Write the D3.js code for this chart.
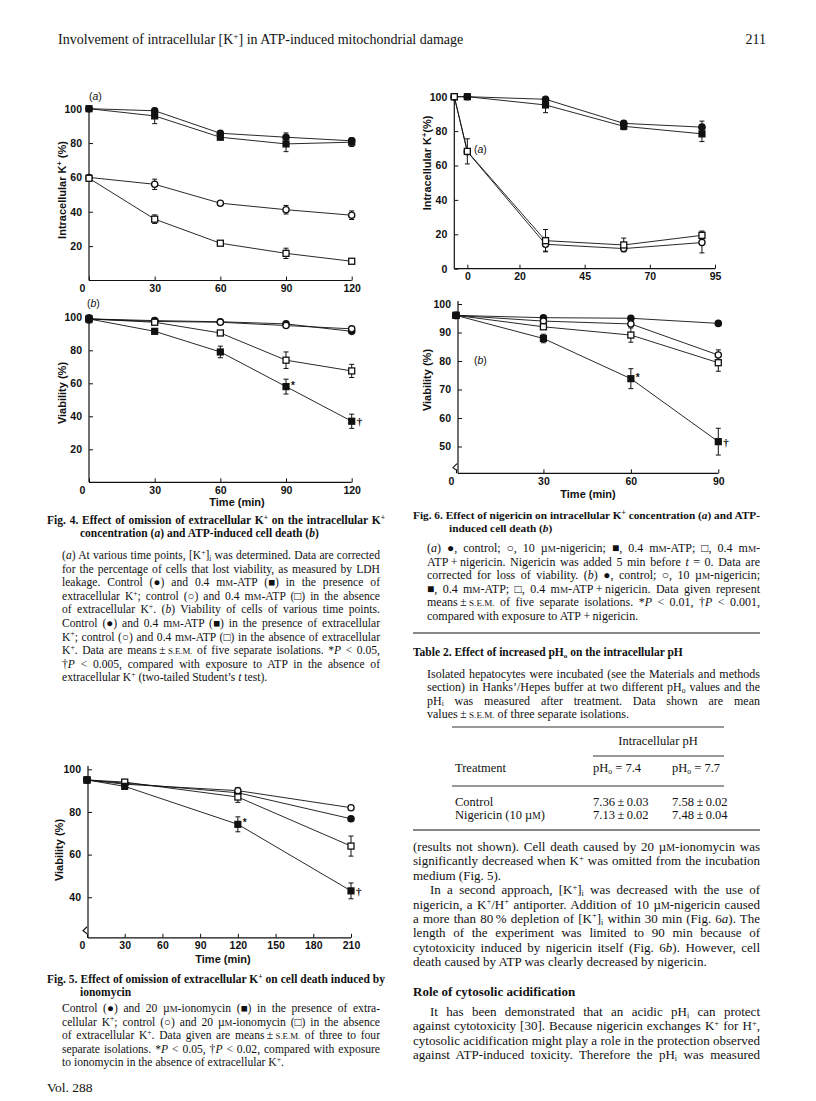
<!DOCTYPE html>
<html><head><meta charset="utf-8">
<script src="https://cdn.jsdelivr.net/npm/d3@7"></script>
<style>html,body{margin:0;padding:0;background:#fff;}svg{display:block;}</style>
</head><body>
<svg id="page" width="816" height="1101"></svg>
<script>
// ================= DATA =================
// Fig. 4(a) intracellular K+ (%)
const fig4Time = [0, 30, 60, 90, 120];
const fig4aCtrlK = [100, 98.8, 85.7, 83.4, 81.3];
const fig4aCtrlKErr = [0, 1, 1.5, 2.5, 1];
const fig4aAtpK = [100, 95.8, 83.4, 79.5, 80.5];
const fig4aAtpKErr = [0, 4.5, 1.5, 4.5, 2.5];
const fig4aCtrlNoK = [60, 56, 45, 41.2, 38];
const fig4aCtrlNoKErr = [0, 3, 1, 2.5, 2.5];
const fig4aAtpNoK = [59.5, 35.7, 21.7, 15.8, 11.2];
const fig4aAtpNoKErr = [0, 2.5, 1, 3, 0.5];
// Fig. 4(b) viability (%)
const fig4bCtrlK = [99, 98, 97.3, 96, 91.5];
const fig4bCtrlKErr = [1, 1.5, 1, 1, 1];
const fig4bCtrlNoK = [99, 97.5, 97, 95, 93];
const fig4bCtrlNoKErr = [1, 1, 0.5, 1, 1];
const fig4bAtpK = [99, 91.5, 79, 58, 37];
const fig4bAtpKErr = [2.5, 1.5, 3.5, 4.5, 4.3];
const fig4bAtpKSig = ["", "", "", "*", "\u2020"];
const fig4bAtpNoK = [99, 97, 90.5, 74, 67.5];
const fig4bAtpNoKErr = [1, 1, 1, 5, 4];
const fig4XTicks = [0, 30, 60, 90, 120];
const fig4YTicks = [20, 40, 60, 80, 100];
// Fig. 5 viability (%), ionomycin
const fig5Time = [0, 30, 120, 210];
const fig5CtrlK = [95, 93.5, 89, 76.8];
const fig5CtrlKErr = [0.5, 1, 2, 1];
const fig5CtrlNoK = [95, 93, 90, 82];
const fig5CtrlNoKErr = [0.5, 1, 1.5, 1];
const fig5IonoK = [95, 92, 74.2, 43];
const fig5IonoKErr = [0.5, 1, 3.5, 3.7];
const fig5IonoKSig = ["", "", "*", "\u2020"];
const fig5IonoNoK = [95, 94, 87, 64];
const fig5IonoNoKErr = [0.5, 1, 2.5, 4.7];
const fig5XTicks = [0, 30, 60, 90, 120, 150, 180, 210];
const fig5YTicks = [40, 60, 80, 100];
// Fig. 6(a) intracellular K+ (%), nigericin
const fig6aTime = [-5, 0, 30, 60, 90];
const fig6aCtrl = [100, 100, 98.5, 84.5, 82.3];
const fig6aCtrlErr = [0, 0, 1, 1.5, 3.5];
const fig6aAtp = [100, 100, 95.2, 82.8, 78.4];
const fig6aAtpErr = [0, 0, 4.5, 2, 4.5];
const fig6aNig = [100, 68, 14.2, 11.7, 15.2];
const fig6aNigErr = [0, 0, 4, 1.5, 6];
const fig6aAtpNig = [100, 68.2, 16.3, 13.8, 19.4];
const fig6aAtpNigErr = [0, 7.3, 6.5, 4, 2.5];
const fig6aXTicks = [0, 20, 45, 70, 95];
const fig6aYTicks = [0, 20, 40, 60, 80, 100];
// Fig. 6(b) viability (%)
const fig6bTime = [0, 30, 60, 90];
const fig6bCtrl = [96, 95.2, 95, 93.2];
const fig6bCtrlErr = [0.5, 0.7, 0.7, 0.7];
const fig6bNig = [96, 94, 93, 82.1];
const fig6bNigErr = [0.5, 0.7, 0.7, 1.8];
const fig6bAtp = [96, 87.9, 73.8, 51.7];
const fig6bAtpErr = [0.5, 1.5, 3.5, 4.7];
const fig6bAtpSig = ["", "", "*", "\u2020"];
const fig6bAtpNig = [96, 92, 89.1, 79.4];
const fig6bAtpNigErr = [0.5, 0.7, 2.5, 3];
const fig6bXTicks = [0, 30, 60, 90];
const fig6bYTicks = [50, 60, 70, 80, 90, 100];
// Table 2
const tableTreatments = ["Control", "Nigericin (10 \u00b5@{m})"];
const tablePh74 = ["7.36\u2009\u00b1\u20090.03", "7.13\u2009\u00b1\u20090.02"];
const tablePh77 = ["7.58\u2009\u00b1\u20090.02", "7.48\u2009\u00b1\u20090.04"];
const tableHeaders = ["Treatment", "pH_{o} = 7.4", "pH_{o} = 7.7"];

// ================= TEXT =================
const pageHeader = "Involvement of intracellular [K^{+}] in ATP-induced mitochondrial damage";
const pageNumber = "211";
const fig4Title = ["Fig. 4. Effect of omission of extracellular K^{+} on the intracellular K^{+}",
  "concentration (~{a}) and ATP-induced cell death (~{b})"];
const fig4Legend = [
  "(~{a}) At various time points, [K^{+}]_{i} was determined. Data are corrected",
  "for the percentage of cells that lost viability, as measured by LDH",
  "leakage. Control (\u25cf) and 0.4 m@{m}-ATP (\u25a0) in the presence of",
  "extracellular K^{+}; control (\u25cb) and 0.4 m@{m}-ATP (\u25a1) in the absence",
  "of extracellular K^{+}. (~{b}) Viability of cells of various time points.",
  "Control (\u25cf) and 0.4 m@{m}-ATP (\u25a0) in the presence of extracellular",
  "K^{+}; control (\u25cb) and 0.4 m@{m}-ATP (\u25a1) in the absence of extracellular",
  "K^{+}. Data are means\u2009\u00b1\u2009@{s.e.m.} of five separate isolations. *~{P} < 0.05,",
  "\u2020~{P} < 0.005, compared with exposure to ATP in the absence of",
  "extracellular K^{+} (two-tailed Student\u2019s ~{t} test)."];
const fig5Title = ["Fig. 5. Effect of omission of extracellular K^{+} on cell death induced by",
  "ionomycin"];
const fig5Legend = [
  "Control (\u25cf) and 20 \u00b5@{m}-ionomycin (\u25a0) in the presence of extra-",
  "cellular K^{+}; control (\u25cb) and 20 \u00b5@{m}-ionomycin (\u25a1) in the absence",
  "of extracellular K^{+}. Data given are means\u2009\u00b1\u2009@{s.e.m.} of three to four",
  "separate isolations. *~{P} < 0.05, \u2020~{P} < 0.02, compared with exposure",
  "to ionomycin in the absence of extracellular K^{+}."];
const fig6Title = ["Fig. 6. Effect of nigericin on intracellular K^{+} concentration (~{a}) and ATP-",
  "induced cell death (~{b})"];
const fig6Legend = [
  "(~{a}) \u25cf, control; \u25cb, 10 \u00b5@{m}-nigericin; \u25a0, 0.4 m@{m}-ATP; \u25a1, 0.4 m@{m}-",
  "ATP\u2009+\u2009nigericin. Nigericin was added 5 min before ~{t} = 0. Data are",
  "corrected for loss of viability. (~{b}) \u25cf, control; \u25cb, 10 \u00b5@{m}-nigericin;",
  "\u25a0, 0.4 m@{m}-ATP; \u25a1, 0.4 m@{m}-ATP\u2009+\u2009nigericin. Data given represent",
  "means\u2009\u00b1\u2009@{s.e.m.} of five separate isolations. *~{P} < 0.01, \u2020~{P} < 0.001,",
  "compared with exposure to ATP\u2009+\u2009nigericin."];
const table2Title = "Table 2. Effect of increased pH_{o} on the intracellular pH";
const table2Legend = [
  "Isolated hepatocytes were incubated (see the Materials and methods",
  "section) in Hanks\u2019/Hepes buffer at two different pH_{o} values and the",
  "pH_{i} was measured after treatment. Data shown are mean",
  "values\u2009\u00b1\u2009@{s.e.m.} of three separate isolations."];
const bodyLines = [
  "(results not shown). Cell death caused by 20 \u00b5@{m}-ionomycin was",
  "significantly decreased when K^{+} was omitted from the incubation",
  "medium (Fig. 5).",
  "In a second approach, [K^{+}]_{i} was decreased with the use of",
  "nigericin, a K^{+}/H^{+} antiporter. Addition of 10 \u00b5@{m}-nigericin caused",
  "a more than 80\u2009% depletion of [K^{+}]_{i} within 30 min (Fig. 6~{a}). The",
  "length of the experiment was limited to 90 min because of",
  "cytotoxicity induced by nigericin itself (Fig. 6~{b}). However, cell",
  "death caused by ATP was clearly decreased by nigericin."];
const sectionHeading = "Role of cytosolic acidification";
const bodyLines2 = [
  "It has been demonstrated that an acidic pH_{i} can protect",
  "against cytotoxicity [30]. Because nigericin exchanges K^{+} for H^{+},",
  "cytosolic acidification might play a role in the protection observed",
  "against ATP-induced toxicity. Therefore the pH_{i} was measured"];
const volume = "Vol. 288";

// ================= DRAWING =================
const SERIF = "'Liberation Serif','Times New Roman',serif";
const SANS = "'Liberation Sans',Arial,sans-serif";
const INK = "#111";
const svg = d3.select("#page");
svg.append("rect").attr("width", 816).attr("height", 1101).attr("fill", "#fff");

function rich(parent, str, x, y, o = {}) {
  const size = o.size || 11;
  const t = parent.append("text").attr("x", x).attr("y", y)
    .attr("font-family", o.family || SERIF).attr("font-size", size)
    .attr("font-weight", o.weight || "normal").attr("fill", INK)
    .style("white-space", "pre");
  if (o.anchor) t.attr("text-anchor", o.anchor);
  if (o.transform) t.attr("transform", o.transform);
  const re = /([\^_~@])\{([^}]*)\}/g;
  let last = 0, cur = 0, m;
  const segs = [];
  while ((m = re.exec(str))) {
    if (m.index > last) segs.push({ t: str.slice(last, m.index), k: "" });
    segs.push({ t: m[2], k: m[1] });
    last = re.lastIndex;
  }
  if (last < str.length) segs.push({ t: str.slice(last), k: "" });
  segs.forEach(s => {
    let off = 0, fs = size, txt = s.t, it = false;
    if (s.k === "^") { off = -0.36 * size; fs = 0.66 * size; }
    else if (s.k === "_") { off = 0.14 * size; fs = 0.62 * size; }
    else if (s.k === "@") { txt = txt.toUpperCase(); fs = 0.76 * size; }
    else if (s.k === "~") it = true;
    const ts = t.append("tspan").text(txt).attr("font-size", fs);
    if (off !== cur) { ts.attr("dy", off - cur); cur = off; }
    if (it) ts.attr("font-style", "italic");
  });
  if (o.width) {
    const L = t.node().getComputedTextLength();
    const plain = str.replace(/([\^_~@])\{([^}]*)\}/g, (a, b, c) => c);
    const n = (plain.match(/ /g) || []).length;
    if (n > 0) t.attr("word-spacing", Math.max(-0.6, (o.width - L) / n));
  }
  return t;
}

function paragraph(lines, x, y0, lh, width, o = {}) {
  lines.forEach((ln, i) => {
    const justify = i < lines.length - 1;
    rich(svg, ln, x, y0 + i * lh, Object.assign({}, o, { width: justify ? width : null }));
  });
}

function drawPanel(c) {
  const g = svg.append("g");
  const x = d3.scaleLinear().domain(c.xDomain).range(c.xRange);
  const y = d3.scaleLinear().domain(c.yDomain).range(c.yRange);
  const axisX = c.axisX !== undefined ? c.axisX : c.xRange[0];
  const gx = g.append("g").attr("transform", `translate(0,${c.yRange[0]})`)
    .call(d3.axisBottom(x).tickValues(c.xTicks).tickSize(-4).tickSizeOuter(0).tickPadding(4));
  gx.select(".domain").attr("d", `M${axisX},0H${c.xRange[1]}`);
  const gy = g.append("g").attr("transform", `translate(${axisX},0)`)
    .call(d3.axisLeft(y).tickValues(c.yTicks).tickSize(-4).tickSizeOuter(0).tickPadding(7));
  gy.select(".domain").attr("d", `M0,${c.yRange[0]}V${c.yTop !== undefined ? c.yTop : c.yRange[1]}`);
  [gx, gy].forEach(a => {
    a.attr("font-family", SANS).attr("font-size", 10.5).attr("font-weight", "bold");
    a.select(".domain").attr("stroke", INK).attr("stroke-width", 1.2);
    a.selectAll(".tick line").attr("stroke", INK).attr("stroke-width", 1);
    a.selectAll("text").attr("fill", INK);
  });
  if (c.zeroShift) gx.selectAll(".tick").filter(d => d === 0).select("text").attr("dx", c.zeroShift);
  if (c.breakAt !== undefined) {
    const by = y(c.breakAt);
    g.append("path").attr("d", `M${axisX - 1},${by - 4}L${axisX - 5},${by}L${axisX - 1},${by + 3}`)
      .attr("fill", "none").attr("stroke", INK).attr("stroke-width", 1.1);
  }
  const line = d3.line().x(d => x(d.t)).y(d => y(d.v));
  const all = c.series.map(s => c.time.map((t, i) => ({ t, v: s.values[i], e: s.err[i], sig: s.sig ? s.sig[i] : "", s })));
  all.forEach(pts => g.append("path").datum(pts).attr("d", line)
    .attr("fill", "none").attr("stroke", INK).attr("stroke-width", 0.9));
  all.forEach(pts => pts.filter(p => p.e > 0).forEach(p => {
    const cx = x(p.t), y1 = y(p.v - p.e), y2 = y(p.v + p.e);
    g.append("path").attr("d", `M${cx},${y1}V${y2}M${cx - 2.5},${y1}H${cx + 2.5}M${cx - 2.5},${y2}H${cx + 2.5}`)
      .attr("stroke", INK).attr("stroke-width", 1).attr("fill", "none");
  }));
  all.forEach(pts => pts.forEach(p => {
    const cx = x(p.t), cy = y(p.v), sh = p.s.shape;
    if (sh === "fsq") g.append("rect").attr("x", cx - 3.6).attr("y", cy - 3.6).attr("width", 7.2).attr("height", 7.2).attr("fill", INK);
    else if (sh === "osq") g.append("rect").attr("x", cx - 3).attr("y", cy - 3).attr("width", 6).attr("height", 6).attr("fill", "#fff").attr("stroke", INK).attr("stroke-width", 1.3);
    else if (sh === "fci") g.append("circle").attr("cx", cx).attr("cy", cy).attr("r", 3.8).attr("fill", INK);
    else g.append("circle").attr("cx", cx).attr("cy", cy).attr("r", 3.1).attr("fill", "#fff").attr("stroke", INK).attr("stroke-width", 1.3);
    if (p.sig === "*") g.append("text").attr("x", cx + 5).attr("y", cy + 2).attr("font-family", SANS).attr("font-weight", "bold").attr("font-size", 10).attr("fill", INK).text("*");
    else if (p.sig) g.append("text").attr("x", cx + 5).attr("y", cy + 4).attr("font-family", SERIF).attr("font-weight", "bold").attr("font-size", 11).attr("fill", INK).text(p.sig);
  }));
  if (c.yTitle) rich(svg, c.yTitle, 0, 0, { family: SANS, weight: "bold", size: 11, anchor: "middle", transform: `translate(${c.yTitlePos[0]},${c.yTitlePos[1]}) rotate(-90)` });
  if (c.xTitle) rich(svg, c.xTitle, c.xTitlePos[0], c.xTitlePos[1], { family: SANS, weight: "bold", size: 11, anchor: "middle" });
  if (c.tag) rich(svg, c.tag, c.tagPos[0], c.tagPos[1], { family: SANS, size: 10.5 });
}

// ---- Header
rich(svg, pageHeader, 58, 44, { size: 14 });
rich(svg, pageNumber, 766, 44, { size: 14, anchor: "end" });

// ---- Fig 4(a)
drawPanel({
  xDomain: [0, 120], xRange: [89, 351.7], yDomain: [0, 100], yRange: [280.5, 108.7],
  xTicks: fig4XTicks, yTicks: fig4YTicks, zeroShift: -7, time: fig4Time,
  series: [
    { values: fig4aCtrlK, err: fig4aCtrlKErr, shape: "fci" },
    { values: fig4aAtpK, err: fig4aAtpKErr, shape: "fsq" },
    { values: fig4aCtrlNoK, err: fig4aCtrlNoKErr, shape: "oci" },
    { values: fig4aAtpNoK, err: fig4aAtpNoKErr, shape: "osq" }],
  yTitle: "Intracellular K^{+} (%)", yTitlePos: [66, 190], tag: "(~{a})", tagPos: [89, 100]
});
// ---- Fig 4(b)
drawPanel({
  xDomain: [0, 120], xRange: [89, 351.7], yDomain: [0, 100], yRange: [482.3, 317.3],
  xTicks: fig4XTicks, yTicks: fig4YTicks, zeroShift: -7, time: fig4Time, yTop: 314,
  series: [
    { values: fig4bCtrlK, err: fig4bCtrlKErr, shape: "fci" },
    { values: fig4bCtrlNoK, err: fig4bCtrlNoKErr, shape: "oci" },
    { values: fig4bAtpNoK, err: fig4bAtpNoKErr, shape: "osq" },
    { values: fig4bAtpK, err: fig4bAtpKErr, shape: "fsq", sig: fig4bAtpKSig }],
  yTitle: "Viability (%)", yTitlePos: [66, 393], xTitle: "Time (min)", xTitlePos: [237, 506],
  tag: "(~{b})", tagPos: [87, 307]
});
// ---- Fig 5
drawPanel({
  xDomain: [0, 210], xRange: [87, 351], yDomain: [21, 100], yRange: [937.8, 769.3], axisX: 88,
  xTicks: fig5XTicks, yTicks: fig5YTicks, zeroShift: -5, time: fig5Time, yTop: 766, breakAt: 24.3,
  series: [
    { values: fig5CtrlK, err: fig5CtrlKErr, shape: "fci" },
    { values: fig5CtrlNoK, err: fig5CtrlNoKErr, shape: "oci" },
    { values: fig5IonoNoK, err: fig5IonoNoKErr, shape: "osq" },
    { values: fig5IonoK, err: fig5IonoKErr, shape: "fsq", sig: fig5IonoKSig }],
  yTitle: "Viability (%)", yTitlePos: [63, 850], xTitle: "Time (min)", xTitlePos: [223, 963]
});
// ---- Fig 6(a)
drawPanel({
  xDomain: [-5, 95], xRange: [454.3, 715], yDomain: [0, 100], yRange: [268.7, 96.7],
  xTicks: fig6aXTicks, yTicks: fig6aYTicks, time: fig6aTime,
  series: [
    { values: fig6aCtrl, err: fig6aCtrlErr, shape: "fci" },
    { values: fig6aAtp, err: fig6aAtpErr, shape: "fsq" },
    { values: fig6aNig, err: fig6aNigErr, shape: "oci" },
    { values: fig6aAtpNig, err: fig6aAtpNigErr, shape: "osq" }],
  yTitle: "Intracellular K^{+}(%)", yTitlePos: [431, 163], tag: "(~{a})", tagPos: [474, 153]
});
// ---- Fig 6(b)
drawPanel({
  xDomain: [0, 90], xRange: [456, 718.3], yDomain: [40.6, 100], yRange: [473.3, 304], axisX: 458,
  xTicks: fig6bXTicks, yTicks: fig6bYTicks, zeroShift: -5, time: fig6bTime, yTop: 301, breakAt: 42.6,
  series: [
    { values: fig6bCtrl, err: fig6bCtrlErr, shape: "fci" },
    { values: fig6bNig, err: fig6bNigErr, shape: "oci" },
    { values: fig6bAtpNig, err: fig6bAtpNigErr, shape: "osq" },
    { values: fig6bAtp, err: fig6bAtpErr, shape: "fsq", sig: fig6bAtpSig }],
  yTitle: "Viability (%)", yTitlePos: [431, 380], xTitle: "Time (min)", xTitlePos: [588, 498],
  tag: "(~{b})", tagPos: [474, 364]
});

// ---- Captions, left column
rich(svg, fig4Title[0], 47, 524, { size: 11.5, weight: "bold", width: 338 });
rich(svg, fig4Title[1], 80, 537, { size: 11.5, weight: "bold" });
paragraph(fig4Legend, 62, 559, 13.6, 318, { size: 11.6 });
rich(svg, fig5Title[0], 47, 983, { size: 11.5, weight: "bold", width: 338 });
rich(svg, fig5Title[1], 80, 995.5, { size: 11.5, weight: "bold" });
paragraph(fig5Legend, 62, 1012, 13.5, 318, { size: 11.6 });
rich(svg, volume, 47, 1092, { size: 13.5 });

// ---- Right column
rich(svg, fig6Title[0], 413, 519, { size: 11.3, weight: "bold", width: 347 });
rich(svg, fig6Title[1], 449, 531.5, { size: 11.3, weight: "bold" });
paragraph(fig6Legend, 427, 552, 13.5, 333, { size: 12 });
svg.append("line").attr("x1", 413).attr("x2", 760).attr("y1", 633).attr("y2", 633).attr("stroke", INK).attr("stroke-width", 1);

rich(svg, table2Title, 413, 656, { size: 11.5, weight: "bold" });
paragraph(table2Legend, 427, 678, 13.4, 333, { size: 12 });
[[452, 724, 727], [593, 724, 756], [452, 724, 786]].forEach(r =>
  svg.append("line").attr("x1", r[0]).attr("x2", r[1]).attr("y1", r[2]).attr("y2", r[2]).attr("stroke", "#333").attr("stroke-width", 1));
svg.append("line").attr("x1", 413).attr("x2", 760).attr("y1", 830).attr("y2", 830).attr("stroke", INK).attr("stroke-width", 1.2);
rich(svg, "Intracellular pH", 658, 745, { size: 12.5, anchor: "middle" });
rich(svg, tableHeaders[0], 455, 772, { size: 12.5 });
rich(svg, tableHeaders[1], 593, 772, { size: 12.5 });
rich(svg, tableHeaders[2], 672, 772, { size: 12.5 });
tableTreatments.forEach((t, i) => {
  const yy = 806 + i * 13;
  rich(svg, t, 455, yy, { size: 12.5 });
  rich(svg, tablePh74[i], 593, yy, { size: 12.5 });
  rich(svg, tablePh77[i], 672, yy, { size: 12.5 });
});

// body text
const LH = 14.4;
bodyLines.forEach((ln, i) => {
  const last = (i === 2 || i === bodyLines.length - 1);
  const ix = i === 3 ? 17 : 0;
  rich(svg, ln, 413 + ix, 851 + i * LH, { size: 13, width: last ? null : 347 - ix });
});
rich(svg, sectionHeading, 413, 996, { size: 13, weight: "bold" });
bodyLines2.forEach((ln, i) => {
  const ix = i === 0 ? 17 : 0;
  rich(svg, ln, 413 + ix, 1016 + i * LH, { size: 13, width: 347 - ix });
});
</script>
</body></html>
